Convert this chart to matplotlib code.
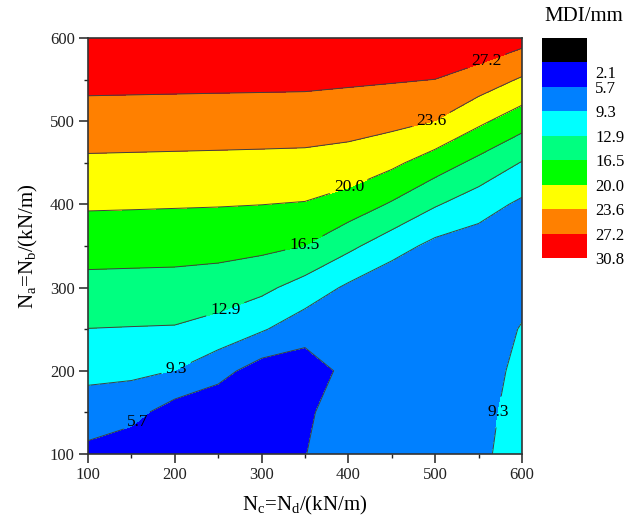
import matplotlib
matplotlib.use('Agg')
import matplotlib.pyplot as plt
import numpy as np
from matplotlib.colors import ListedColormap
from matplotlib.ticker import MultipleLocator

plt.rcParams['font.family'] = 'Liberation Serif'
plt.rcParams['mathtext.fontset'] = 'custom'
plt.rcParams['mathtext.rm'] = 'Liberation Serif'
plt.rcParams['mathtext.it'] = 'Liberation Serif:italic'

# grid of Nc (columns) and Na (rows), kN/m
nc = [100, 150, 200, 250, 300, 350, 400, 450, 500, 550, 600]
na = [100, 150, 200, 250, 300, 350, 400, 450, 500, 550, 600]

# MDI (mm), one row per Na value, columns follow nc
mdi = [
    [4.83, 3.47, 3.00, 2.70, 2.80, 5.60, 8.10, 7.80, 8.30, 8.60, 10.80],
    [7.55, 6.85, 4.03, 3.00, 3.20, 5.00, 7.92, 7.20, 7.60, 8.40, 10.40],
    [10.24, 10.05, 9.25, 6.97, 4.00, 3.80, 6.68, 6.60, 7.00, 8.10, 10.00],
    [12.85, 12.74, 12.64, 11.58, 9.66, 7.21, 7.50, 6.40, 6.80, 7.50, 9.50],
    [15.42, 15.33, 15.26, 14.85, 13.76, 11.46, 8.70, 6.50, 7.20, 7.00, 8.30],
    [17.92, 17.85, 17.77, 17.65, 17.31, 16.45, 13.72, 10.86, 8.30, 7.40, 8.20],
    [20.39, 20.32, 20.24, 20.16, 20.03, 19.80, 18.56, 16.13, 13.22, 10.92, 8.60],
    [23.02, 22.95, 22.88, 22.81, 22.73, 22.63, 22.14, 20.74, 18.30, 15.60, 12.73],
    [25.62, 25.56, 25.50, 25.44, 25.38, 25.32, 25.04, 24.56, 23.55, 20.70, 17.99],
    [28.21, 28.16, 28.11, 28.06, 28.02, 27.97, 27.71, 27.47, 27.18, 25.58, 23.23],
    [30.60, 30.60, 30.60, 30.60, 30.60, 30.60, 30.39, 30.00, 29.80, 29.93, 28.51],
]

levels = [0.0, 2.1, 5.7, 9.3, 12.9, 16.5, 20.0, 23.6, 27.2, 30.8]
band_colors = ['#000000', '#0000FF', '#0080FF', '#00FFFF', '#00FF80',
               '#00FF00', '#FFFF00', '#FF8000', '#FF0000']

# where the inline contour labels sit
label_spots = [(160, 135), (203, 200), (261, 266), (350, 350),
               (400, 422), (496, 500), (560, 569), (571, 151)]

fig = plt.figure(figsize=(6.24, 5.24), dpi=100)
ax = fig.add_axes([0.141, 0.1336, 0.6955, 0.794])

z = np.array(mdi)
ax.contourf(nc, na, z, levels=levels, colors=band_colors)
cs = ax.contour(nc, na, z, levels=levels[2:-1], colors='#404040', linewidths=0.7)
txts = ax.clabel(cs, fmt='%.1f', fontsize=12.5, inline=True, manual=label_spots)
for t in txts:
    t.set_rotation(0)
    t.set_color('black')

ax.set_xlim(100, 600)
ax.set_ylim(100, 600)
ax.xaxis.set_major_locator(MultipleLocator(100))
ax.yaxis.set_major_locator(MultipleLocator(100))
ax.xaxis.set_minor_locator(MultipleLocator(50))
ax.yaxis.set_minor_locator(MultipleLocator(50))
ax.tick_params(which='major', direction='out', length=6.5, width=1.1, labelsize=12,
               colors='#222222', pad=3)
ax.tick_params(which='minor', direction='out', length=3, width=1.0, colors='#222222')
for sp in ax.spines.values():
    sp.set_linewidth(1.2)
    sp.set_color('#333333')

ax.set_xlabel(r'N$_\mathrm{c}$=N$_\mathrm{d}$/(kN/m)', fontsize=15, labelpad=8)
ax.set_ylabel(r'N$_\mathrm{a}$=N$_\mathrm{b}$/(kN/m)', fontsize=15, labelpad=7)

# colour key
cax = fig.add_axes([0.8686, 0.5076, 0.0721, 0.4198])
cax.imshow(np.arange(len(band_colors)).reshape(-1, 1), cmap=ListedColormap(band_colors),
           aspect='auto', extent=(0, 1, len(band_colors), 0), interpolation='nearest')
cax.set_xticks([])
key_ticks = [1.4] + list(range(2, len(levels)))
cax.set_yticks(key_ticks)
cax.set_yticklabels([f'{v:.1f}' for v in levels[1:]], fontsize=12)
cax.yaxis.tick_right()
cax.tick_params(axis='y', length=0, pad=6)
for sp in cax.spines.values():
    sp.set_visible(False)

fig.text(0.873, 0.969, 'MDI/mm', fontsize=15, va='center', ha='left')

fig.savefig('out.png', dpi=100)
